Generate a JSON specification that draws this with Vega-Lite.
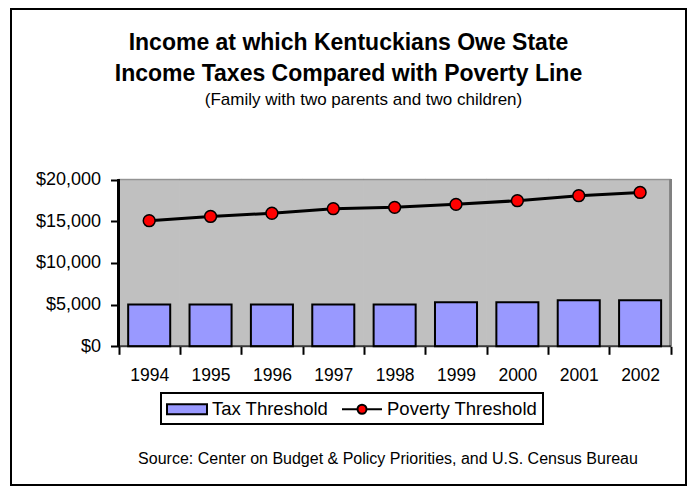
{
  "$schema": "https://vega.github.io/schema/vega-lite/v6.json",
  "width": 675,
  "height": 476,
  "autosize": {"type": "none"},
  "padding": {"left": 11, "top": 9, "right": 3, "bottom": 2},
  "background": "white",
  "config": {
    "view": {"stroke": "black", "strokeWidth": 2, "fill": "white"},
    "font": "Liberation Sans",
    "axis": {"labelFont": "Liberation Sans", "titleFont": "Liberation Sans", "labelColor": "black", "titleColor": "black", "tickColor": "black", "grid": false, "domain": false},
    "legend": {"strokeColor": "black", "strokeWidth": 2}
  },
  "title": {
    "text": ["Income at which Kentuckians Owe State", "Income Taxes Compared with Poverty Line"],
    "font": "Liberation Sans",
    "fontSize": 23,
    "fontWeight": "bold",
    "color": "black",
    "lineHeight": 31,
    "anchor": "middle",
    "frame": "group",
    "baseline": "top",
    "offset": -77
  },
  "data": {
    "values": [
      {"year": "1994", "tax": 5000, "poverty": 15060},
      {"year": "1995", "tax": 5000, "poverty": 15570},
      {"year": "1996", "tax": 5000, "poverty": 15950},
      {"year": "1997", "tax": 5000, "poverty": 16500},
      {"year": "1998", "tax": 5000, "poverty": 16660},
      {"year": "1999", "tax": 5270, "poverty": 17020},
      {"year": "2000", "tax": 5270, "poverty": 17460},
      {"year": "2001", "tax": 5510, "poverty": 18060},
      {"year": "2002", "tax": 5510, "poverty": 18450}
    ]
  },
  "layer": [
    {
      "mark": {"type": "bar", "color": "#C0C0C0", "stroke": "#C0C0C0", "strokeWidth": 1, "width": {"band": 1}},
      "encoding": {
        "x": {
          "field": "year", "type": "ordinal",
          "scale": {"paddingInner": 0, "paddingOuter": 1, "align": 0.876, "round": false},
          "axis": {
            "orient": "bottom", "offset": -138.7, "tickBand": "extent", "tickSize": 8, "tickWidth": 2,
            "labelAngle": 0, "labelFontSize": 17.5, "labelPadding": 12.5,
            "title": "Source: Center on Budget & Policy Priorities, and U.S. Census Bureau",
            "titleFontSize": 16, "titleFontWeight": "normal", "titleX": 376.5, "titleY": 116.7,
            "titleAlign": "center", "titleBaseline": "alphabetic", "titleAngle": 0
          }
        },
        "y": {
          "datum": 0, "type": "quantitative",
          "scale": {"domain": [-16631, 40444], "nice": false, "zero": false},
          "axis": {
            "orient": "left", "offset": -107.5, "values": [0, 5000, 10000, 15000, 20000], "format": "$,.0f",
            "tickSize": 8, "tickWidth": 2, "labelFontSize": 18, "labelPadding": 10,
            "title": "(Family with two parents and two children)",
            "titleFontSize": 17, "titleFontWeight": "normal", "titleAngle": 0, "titleX": 244.5, "titleY": 95,
            "titleAlign": "center", "titleBaseline": "alphabetic"
          }
        },
        "y2": {"datum": 20000}
      }
    },
    {
      "mark": {"type": "tick", "size": 61.6, "thickness": 1.5, "color": "#808080"},
      "encoding": {
        "x": {"field": "year", "type": "ordinal"},
        "y": {"datum": 20000, "type": "quantitative"}
      }
    },
    {
      "mark": {"type": "rule", "color": "#808080", "strokeWidth": 2},
      "encoding": {
        "x": {"datum": "2002", "type": "ordinal", "bandPosition": 1},
        "y": {"datum": 0, "type": "quantitative"},
        "y2": {"datum": 20000}
      }
    },
    {
      "mark": {"type": "bar", "color": "#9999FF", "stroke": "black", "strokeWidth": 2, "width": {"band": 0.685}},
      "encoding": {
        "x": {"field": "year", "type": "ordinal"},
        "y": {"field": "tax", "type": "quantitative"},
        "y2": {"datum": 0}
      }
    },
    {
      "mark": {"type": "tick", "size": 61.6, "thickness": 2, "color": "black"},
      "encoding": {
        "x": {"field": "year", "type": "ordinal"},
        "y": {"datum": 0, "type": "quantitative"}
      }
    },
    {
      "mark": {"type": "rule", "color": "black", "strokeWidth": 2},
      "encoding": {
        "x": {"datum": "1994", "type": "ordinal", "bandPosition": 0},
        "y": {"datum": 0, "type": "quantitative"},
        "y2": {"datum": 20000}
      }
    },
    {
      "mark": {"type": "line", "color": "black", "strokeWidth": 3},
      "encoding": {
        "x": {"field": "year", "type": "ordinal"},
        "y": {"field": "poverty", "type": "quantitative"}
      }
    },
    {
      "mark": {"type": "point", "filled": true, "fill": "#FF0000", "stroke": "black", "strokeWidth": 1.5, "size": 140, "opacity": 1, "shape": "circle"},
      "encoding": {
        "x": {"field": "year", "type": "ordinal"},
        "y": {"field": "poverty", "type": "quantitative"}
      }
    },
    {
      "transform": [{"filter": "false"}],
      "mark": {"type": "point", "filled": true, "strokeWidth": 2, "opacity": 1},
      "encoding": {
        "x": {"field": "year", "type": "ordinal"},
        "y": {"field": "poverty", "type": "quantitative"},
        "fill": {
          "datum": "Tax Threshold", "type": "nominal",
          "scale": {"domain": ["Tax Threshold", "Poverty Threshold"], "range": ["#9999FF", "#FF0000"]},
          "legend": {
            "orient": "none", "legendX": 150, "legendY": 384, "direction": "horizontal", "title": null,
            "padding": 5, "strokeColor": "black", "symbolSize": 400, "symbolStrokeColor": "black", "symbolStrokeWidth": 2, "symbolOpacity": 1,
            "labelFontSize": 18.5, "labelFont": "Liberation Sans", "labelColor": "black",
            "labelOffset": 24, "columnPadding": 9, "labelLimit": 300
          }
        },
        "stroke": {
          "datum": "Tax Threshold", "type": "nominal",
          "scale": {"domain": ["Tax Threshold", "Poverty Threshold"], "range": ["black", "black"]},
          "legend": {
            "orient": "none", "legendX": 150, "legendY": 384, "direction": "horizontal", "title": null,
            "padding": 5, "strokeColor": "black", "symbolSize": 400, "symbolStrokeColor": "black", "symbolStrokeWidth": 2, "symbolOpacity": 1,
            "labelFontSize": 18.5, "labelFont": "Liberation Sans", "labelColor": "black",
            "labelOffset": 24, "columnPadding": 9, "labelLimit": 300
          }
        },
        "shape": {
          "datum": "Tax Threshold", "type": "nominal",
          "scale": {"domain": ["Tax Threshold", "Poverty Threshold"], "range": ["M-1,-0.5H3V0.5H-1Z", "M-1,0H0.55M1.45,0H3M1.45,0A0.45,0.45,0,1,1,0.55,0A0.45,0.45,0,1,1,1.45,0Z"]},
          "legend": {
            "orient": "none", "legendX": 150, "legendY": 384, "direction": "horizontal", "title": null,
            "padding": 5, "strokeColor": "black", "symbolSize": 400, "symbolStrokeColor": "black", "symbolStrokeWidth": 2, "symbolOpacity": 1,
            "labelFontSize": 18.5, "labelFont": "Liberation Sans", "labelColor": "black",
            "labelOffset": 24, "columnPadding": 9, "labelLimit": 300
          }
        }
      }
    }
  ]
}
